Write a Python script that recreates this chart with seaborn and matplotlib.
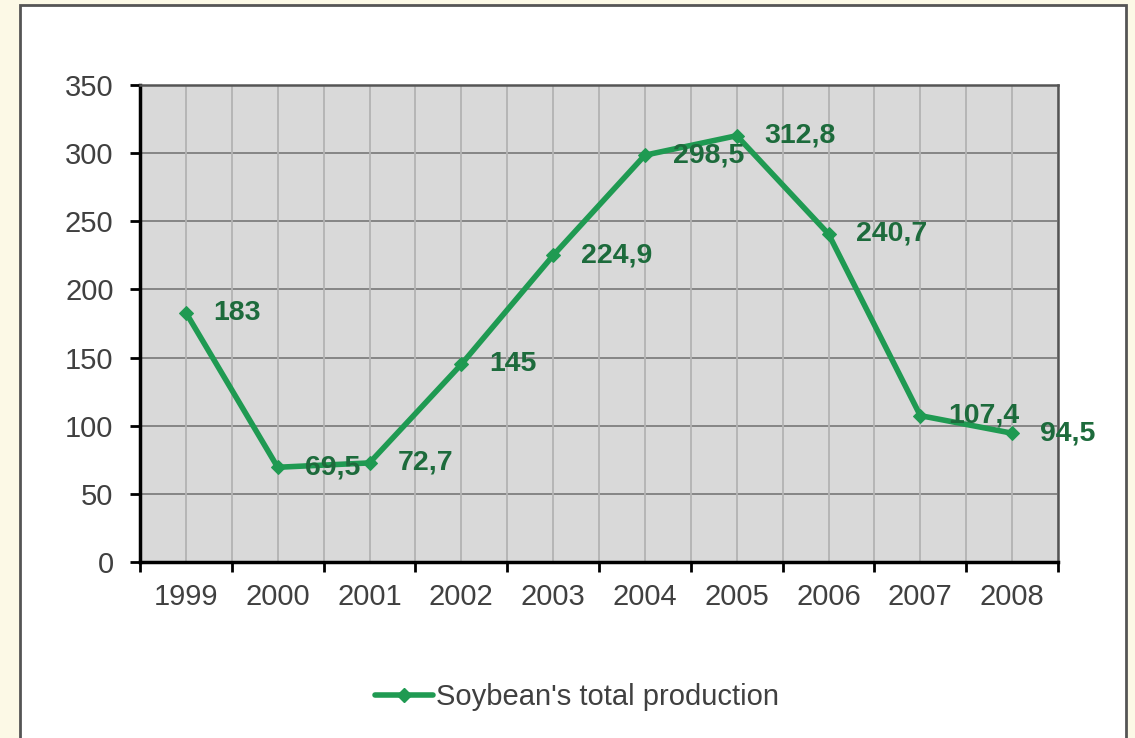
import matplotlib
matplotlib.use("Agg")
import matplotlib.pyplot as plt
from matplotlib.patches import Rectangle
from matplotlib.lines import Line2D
import seaborn as sns
import pandas as pd
import numpy as np

years = ["1999", "2000", "2001", "2002", "2003", "2004", "2005", "2006", "2007", "2008"]
production = [183, 69.5, 72.7, 145, 224.9, 298.5, 312.8, 240.7, 107.4, 94.5]
value_labels = ["183", "69,5", "72,7", "145", "224,9", "298,5", "312,8", "240,7", "107,4", "94,5"]
series_name = "Soybean's total production"
y_ticks = [0, 50, 100, 150, 200, 250, 300, 350]

sns.set_theme(style="white")
plt.rcParams["font.family"] = ["Liberation Sans", "DejaVu Sans"]

df = pd.DataFrame({"year": years, "value": production})

fig = plt.figure(figsize=(11.35, 7.38), dpi=100)
fig.patch.set_facecolor("#fcf9e6")

# white chart card with a thin grey frame
card = Rectangle((20 / 1135, -0.05), (1126 - 20) / 1135, (738 - 5) / 738 + 0.05,
                 transform=fig.transFigure, facecolor="white", edgecolor="#555555",
                 linewidth=2.0, zorder=-1)
fig.patches.append(card)

ax = fig.add_axes([140 / 1135, 176 / 738, (1058 - 140) / 1135, (562 - 85) / 738])
ax.set_facecolor("#d9d9d9")

line_green = "#1f9a52"
sns.lineplot(data=df, x="year", y="value", ax=ax, color=line_green, linewidth=4.0,
             marker="D", markersize=7, markeredgecolor=line_green, sort=False,
             zorder=3)

ax.set_xlim(-0.5, len(years) - 0.5)
ax.set_ylim(0, 350)
ax.set_yticks(y_ticks)
ax.set_yticklabels([str(v) for v in y_ticks])

pos = np.arange(len(years))
ax.set_xticks(pos)
ax.set_xticklabels(years)
ax.set_xticks(np.arange(-0.5, len(years)), minor=True)

ax.set_xlabel("")
ax.set_ylabel("")

# grid: darker horizontal lines, lighter vertical lines at every half category
ax.grid(False)
for v in y_ticks[1:]:
    ax.axhline(v, color="#7f7f7f", linewidth=1.3, zorder=1)
for xv in np.arange(-0.5, len(years), 0.5):
    ax.axvline(xv, color="#b3b3b3", linewidth=1.3, zorder=1)

ax.tick_params(axis="x", which="major", length=0, pad=15, labelsize=21, labelcolor="#404040")
ax.tick_params(axis="x", which="minor", length=7, width=2, color="black", direction="out", bottom=True)
ax.tick_params(axis="y", which="major", length=7, width=2, color="black", direction="out", left=True,
               pad=12, labelsize=21, labelcolor="#404040")

for side in ["left", "bottom"]:
    ax.spines[side].set_color("black")
    ax.spines[side].set_linewidth(2.5)
for side in ["top", "right"]:
    ax.spines[side].set_color("#555555")
    ax.spines[side].set_linewidth(1.8)
for s in ax.spines.values():
    s.set_visible(True)

# value labels to the right of each point
for i, (v, lab) in enumerate(zip(production, value_labels)):
    ax.annotate(lab, (i, v), xytext=(20, 0), textcoords="offset points",
                ha="left", va="center", fontsize=20.5, fontweight="bold",
                color="#1d6b3c", annotation_clip=False, zorder=4)

# legend below the plot
handle = Line2D([], [], color=line_green, linewidth=4.0, marker="D", markersize=7)
fig.legend([handle], [series_name], loc="center", bbox_to_anchor=(577 / 1135, 1 - 697 / 738),
           frameon=False, fontsize=21, handlelength=2.0, handletextpad=0.1,
           labelcolor="#404040")

fig.savefig("out.png", dpi=100, facecolor=fig.get_facecolor())
